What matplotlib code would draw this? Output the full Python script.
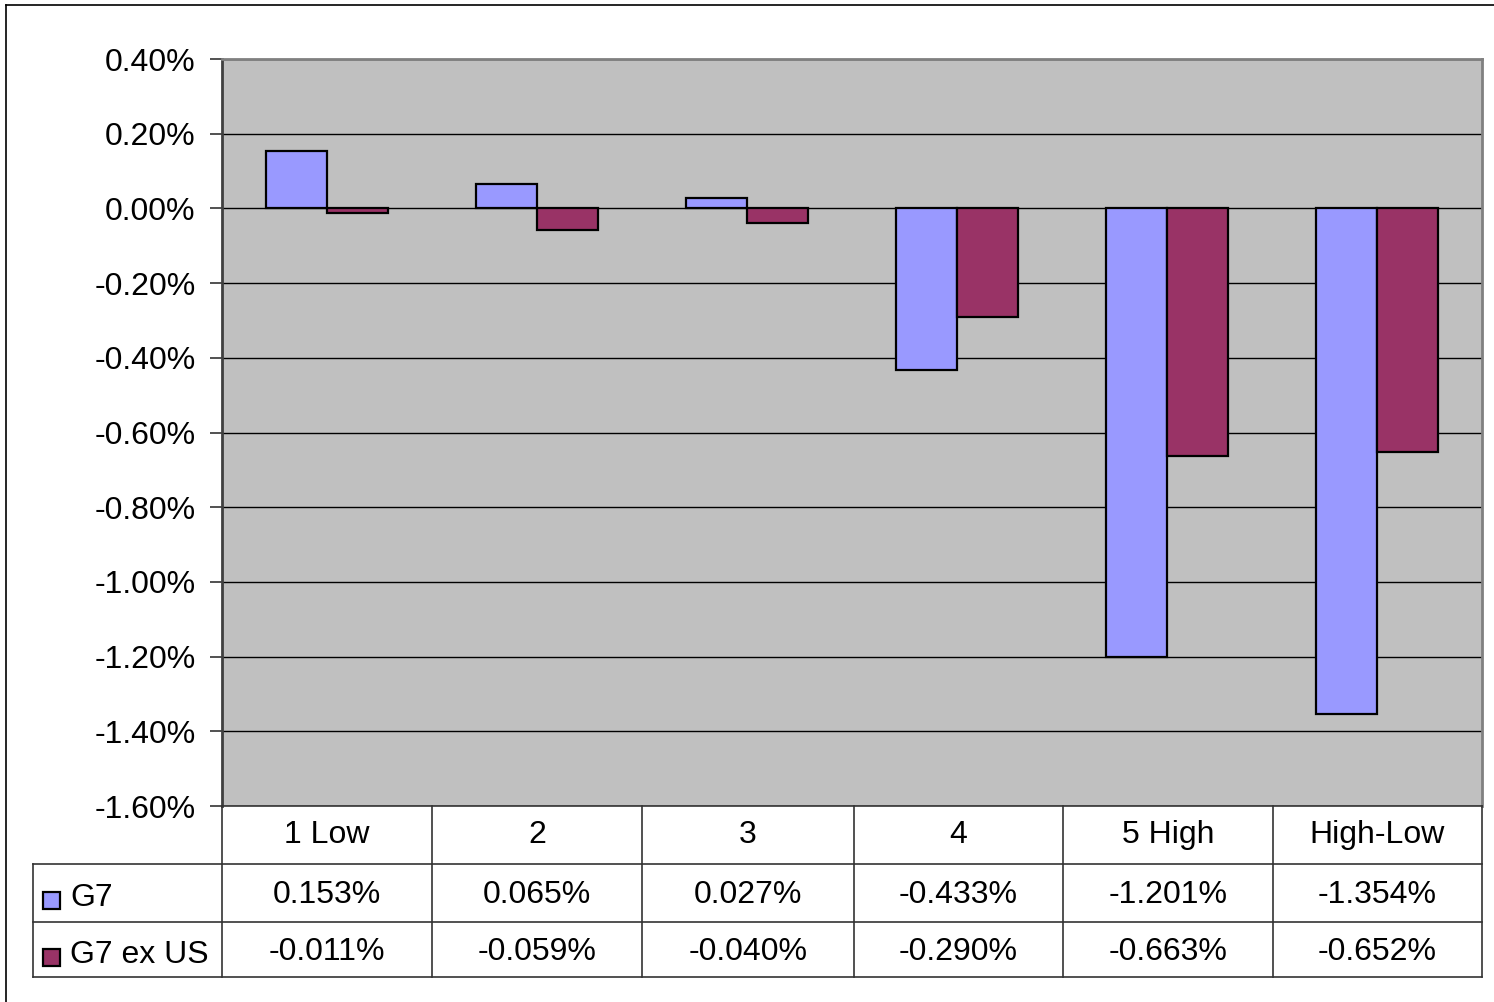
import matplotlib
matplotlib.use("Agg")
import matplotlib.pyplot as plt
from matplotlib.lines import Line2D
from matplotlib.patches import Rectangle
import numpy as np

plt.rcParams['font.family'] = ['Liberation Sans', 'DejaVu Sans']

categories = ["1 Low", "2", "3", "4", "5 High", "High-Low"]
series_names = ["G7", "G7 ex US"]
g7 = [0.153, 0.065, 0.027, -0.433, -1.201, -1.354]
g7_ex_us = [-0.011, -0.059, -0.040, -0.290, -0.663, -0.652]
yticks = [0.4, 0.2, 0.0, -0.2, -0.4, -0.6, -0.8, -1.0, -1.2, -1.4, -1.6]
colors = ["#9999FF", "#993366"]

W, H = 1494, 1002
fig = plt.figure(figsize=(W / 100, H / 100), dpi=100)

def fx(px):
    return px / W

def fy(py):
    return 1 - py / H

FS = 23

L, R, T, B = 222, 1482, 59, 806
ax = fig.add_axes([fx(L), fy(B), fx(R - L), (B - T) / H])
ax.set_facecolor("#C0C0C0")

n = len(categories)
x = np.arange(n)
bw = 0.292
ax.bar(x - bw / 2, g7, width=bw, color=colors[0], edgecolor="black", linewidth=1.6, zorder=3)
ax.bar(x + bw / 2, g7_ex_us, width=bw, color=colors[1], edgecolor="black", linewidth=1.6, zorder=3)

ax.set_xlim(-0.5, n - 0.5)
ax.set_ylim(-1.6, 0.4)
ax.set_yticks(yticks)
ax.set_yticklabels([f"{v:.2f}%" for v in yticks], fontsize=FS)
ax.set_xticks([])
ax.yaxis.grid(True, color="black", linewidth=1.0, zorder=1)
ax.set_axisbelow(True)
ax.tick_params(axis="y", length=9, width=1.2, pad=10, color="#333333")
ax.spines["left"].set_color("#404040")
ax.spines["left"].set_linewidth(2)
ax.spines["top"].set_color("#808080")
ax.spines["top"].set_linewidth(2)
ax.spines["right"].set_color("#808080")
ax.spines["right"].set_linewidth(2)
ax.spines["bottom"].set_color("#333333")
ax.spines["bottom"].set_linewidth(1.2)

# Data table
col_edges = [222, 432, 642, 854, 1063, 1273, 1482]
lc = "#333333"
lw = 1.2

def hline(y, x0, x1):
    fig.add_artist(Line2D([fx(x0), fx(x1)], [fy(y), fy(y)], color=lc, linewidth=lw))

def vline(x0, y0, y1):
    fig.add_artist(Line2D([fx(x0), fx(x0)], [fy(y0), fy(y1)], color=lc, linewidth=lw))

hline(864, 33, 1482)
hline(922, 33, 1482)
hline(977, 33, 1482)
for cx in col_edges:
    vline(cx, 806, 977)
vline(33, 864, 977)

for i, c in enumerate(categories):
    cx = (col_edges[i] + col_edges[i + 1]) / 2
    fig.text(fx(cx), fy(835), c, ha="center", va="center", fontsize=FS)
    fig.text(fx(cx), fy(895), f"{g7[i]:.3f}%", ha="center", va="center", fontsize=FS)
    fig.text(fx(cx), fy(952), f"{g7_ex_us[i]:.3f}%", ha="center", va="center", fontsize=FS)

for j, (name, col) in enumerate(zip(series_names, colors)):
    yc = [900, 957][j]
    fig.add_artist(Rectangle((fx(43), fy(yc + 9)), fx(17), 17 / H, facecolor=col,
                             edgecolor="black", linewidth=1.6))
    fig.text(fx(70), fy(yc - 2), name, ha="left", va="center", fontsize=FS)

# outer border (top and left visible)
fig.add_artist(Line2D([fx(6), fx(1500)], [fy(5), fy(5)], color="black", linewidth=1.2))
fig.add_artist(Line2D([fx(6), fx(6)], [fy(5), fy(1010)], color="black", linewidth=1.2))

fig.savefig("out.png", dpi=100)
